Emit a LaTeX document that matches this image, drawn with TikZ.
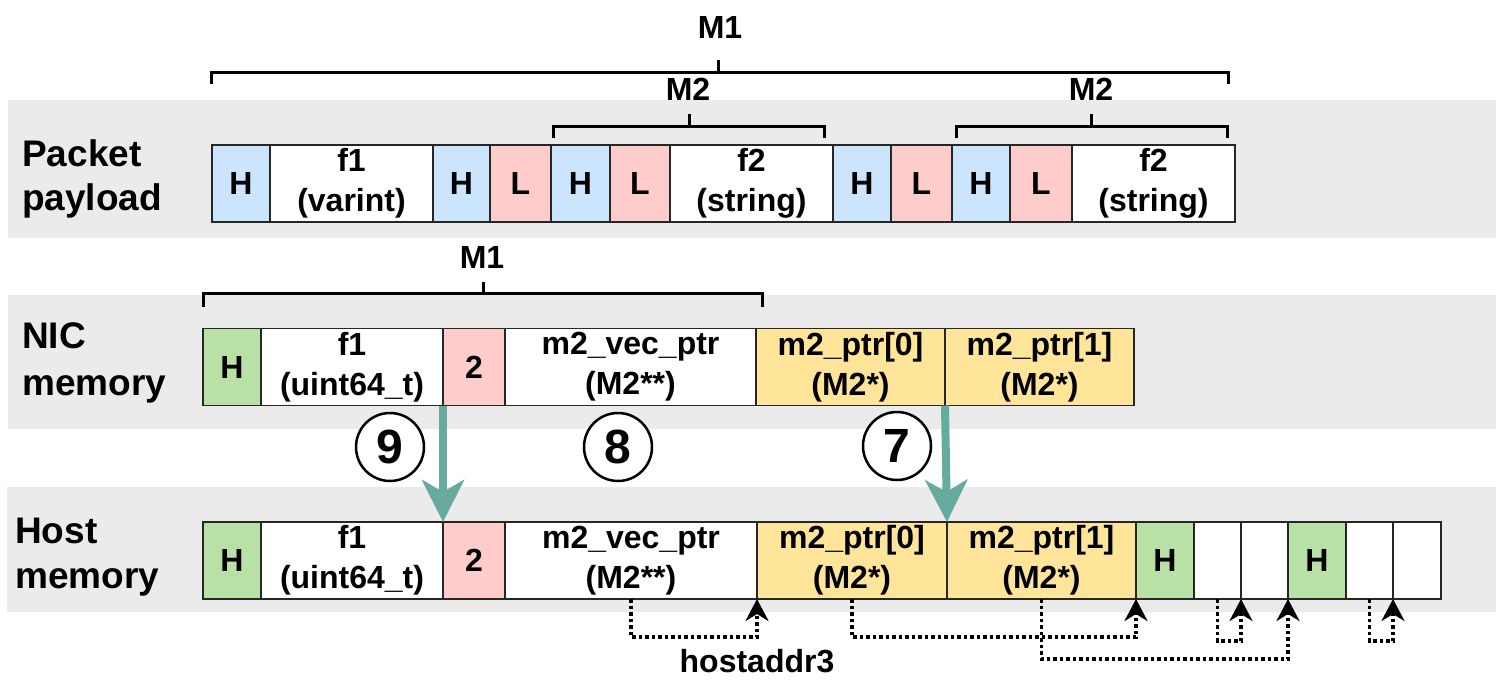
\documentclass[tikz,border=0pt]{standalone}
\usepackage{fontspec}
\setmainfont{Liberation Sans}
\usetikzlibrary{arrows.meta}
\definecolor{bandgray}{HTML}{EBEBEB}
\definecolor{cblue}{HTML}{CCE5FF}
\definecolor{cpink}{HTML}{FFCCCC}
\definecolor{cgreen}{HTML}{B9E0A5}
\definecolor{cyellow}{HTML}{FFE599}
\definecolor{cteal}{HTML}{67AB9F}
\newcommand\mycell[6]{\node[cell, fill=#5, minimum width={#3-#2}] (#1) at ({(#2+#3)/2},#4) {#6};}
\begin{document}
\begin{tikzpicture}[x=1pt,y=-1pt,
  cell/.style={draw=black!85, line width=1.4pt, inner sep=0pt, outer sep=0pt,
    minimum height=77pt, align=center, font=\fontsize{32}{40}\selectfont\bfseries},
  rowlabel/.style={anchor=base west, inner sep=0pt, font=\fontsize{37}{44}\selectfont\bfseries},
  mlabel/.style={anchor=base, inner sep=0pt, font=\fontsize{32}{40}\selectfont\bfseries},
  bracket/.style={draw=black, line width=3pt},
  numcircle/.style={circle, draw=black, line width=2.5pt, fill=white, minimum size=68pt,
    inner sep=0pt, font=\fontsize{48}{48}\selectfont\bfseries},
  copyarrow/.style={draw=cteal, line width=8pt, -{Stealth[length=42pt,width=42pt,inset=12pt]}},
  ptrconn/.style={draw=black, line width=3.5pt, dash pattern=on 3.5pt off 3pt,
    -{Stealth[length=22pt,width=23pt,inset=7pt]}}]
\useasboundingbox (0,0) rectangle (1496,680);
% bands
\fill[bandgray] (8,100) rectangle (1496,238);
\fill[bandgray] (8,295) rectangle (1496,429);
\fill[bandgray] (7,487) rectangle (1496,612);
% row labels
\node[rowlabel] (lp1) at (22,166) {Packet};
\node[rowlabel] (lp2) at (22,210) {payload};
\node[rowlabel] (ln1) at (22,348) {NIC};
\node[rowlabel] (ln2) at (22,395) {memory};
\node[rowlabel] (lh1) at (15,543) {Host};
\node[rowlabel] (lh2) at (15,588) {memory};
% packet payload row
\mycell{P1}{212}{270}{183.5}{cblue}{H}
\mycell{P2}{270}{433}{183.5}{white}{f1\\(varint)}
\mycell{P3}{433}{490}{183.5}{cblue}{H}
\mycell{P4}{490}{551}{183.5}{cpink}{L}
\mycell{P5}{551}{610}{183.5}{cblue}{H}
\mycell{P6}{610}{670}{183.5}{cpink}{L}
\mycell{P7}{670}{833}{183.5}{white}{f2\\(string)}
\mycell{P8}{833}{891}{183.5}{cblue}{H}
\mycell{P9}{891}{952}{183.5}{cpink}{L}
\mycell{P10}{952}{1010}{183.5}{cblue}{H}
\mycell{P11}{1010}{1072}{183.5}{cpink}{L}
\mycell{P12}{1072}{1235}{183.5}{white}{f2\\(string)}
% NIC memory row
\mycell{N1}{203}{261}{367}{cgreen}{H}
\mycell{N2}{261}{443}{367}{white}{f1\\(uint64\_t)}
\mycell{N3}{443}{505}{367}{cpink}{2}
\mycell{N4}{505}{756}{367}{white}{m2\_vec\_ptr\\(M2**)}
\mycell{N5}{756}{945}{367}{cyellow}{m2\_ptr[0]\\(M2*)}
\mycell{N6}{945}{1134}{367}{cyellow}{m2\_ptr[1]\\(M2*)}
% Host memory row
\mycell{H1}{203}{261}{560.5}{cgreen}{H}
\mycell{H2}{261}{443}{560.5}{white}{f1\\(uint64\_t)}
\mycell{H3}{443}{505}{560.5}{cpink}{2}
\mycell{H4}{505}{757}{560.5}{white}{m2\_vec\_ptr\\(M2**)}
\mycell{H5}{757}{947}{560.5}{cyellow}{m2\_ptr[0]\\(M2*)}
\mycell{H6}{947}{1136}{560.5}{cyellow}{m2\_ptr[1]\\(M2*)}
\mycell{H7}{1136}{1194}{560.5}{cgreen}{H}
\mycell{H8}{1194}{1241}{560.5}{white}{}
\mycell{H9}{1241}{1288}{560.5}{white}{}
\mycell{H10}{1288}{1346}{560.5}{cgreen}{H}
\mycell{H11}{1346}{1393}{560.5}{white}{}
\mycell{H12}{1393}{1441}{560.5}{white}{}
% brackets and labels
\draw[bracket] (211,84) -- (211,72) -- (1228,72) -- (1228,84);
\draw[bracket] (718,72) -- (718,60);
\node[mlabel] (m1top) at (720,38) {M1};
\draw[bracket] (553,138) -- (553,126) -- (824,126) -- (824,138);
\draw[bracket] (689,126) -- (689,114);
\node[mlabel] (m2a) at (688,100) {M2};
\draw[bracket] (956,138) -- (956,126) -- (1227,126) -- (1227,138);
\draw[bracket] (1091,126) -- (1091,114);
\node[mlabel] (m2b) at (1091,100) {M2};
\draw[bracket] (203,307) -- (203,293) -- (762,293) -- (762,307);
\draw[bracket] (483,293) -- (483,282);
\node[mlabel] (m1nic) at (482,268) {M1};
% step circles
\node[numcircle] (c9) at (390,447) {9};
\node[numcircle] (c8) at (618,447) {8};
\node[numcircle] (c7) at (897,446) {7};
% copy arrows
\draw[copyarrow] (N3.south west) -- (H3.north west);
\draw[copyarrow] (N6.south west) -- (H6.north west);
% pointer connectors
\draw[ptrconn] (H4.south) -- ++(0,38) -| (H4.south east);
\draw[ptrconn] (H5.south) -- ++(0,38) -| (H6.south east);
\draw[ptrconn] (H6.south) -- ++(0,60) -| (H9.south east);
\draw[ptrconn] (H8.south) -- ++(0,42) -| (H8.south east);
\draw[ptrconn] (H11.south) -- ++(0,42) -| (H11.south east);
\node[mlabel] (haddr) at (757,672) {hostaddr3};
\end{tikzpicture}
\end{document}
